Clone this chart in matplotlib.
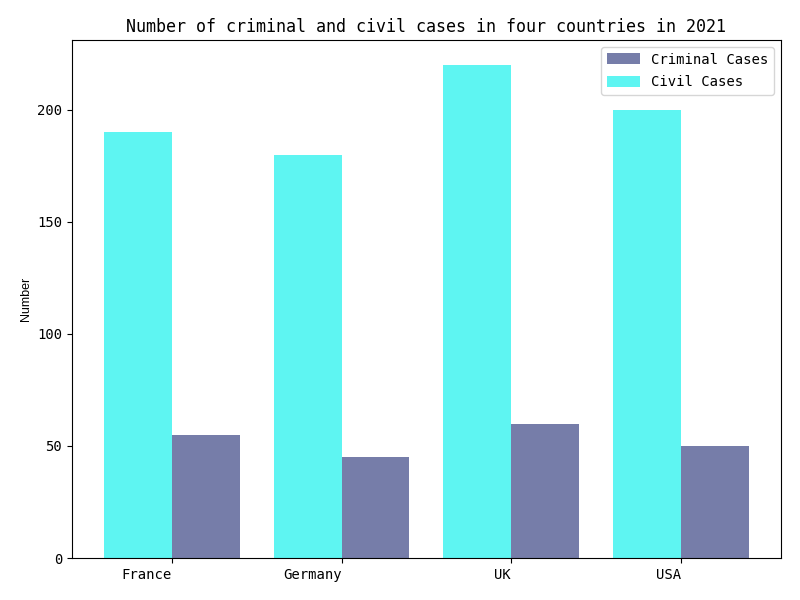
import matplotlib
matplotlib.use('Agg')
import matplotlib.pyplot as plt
import numpy as np

# data
countries = ['France', 'Germany', 'UK', 'USA']
criminal_cases = [55, 45, 60, 50]
civil_cases = [190, 180, 220, 200]

plt.rcParams['font.family'] = ['DejaVu Sans Mono', 'DejaVu Sans']

x = np.arange(len(countries))
width = 0.4

fig, ax = plt.subplots(figsize=(8, 6), dpi=100)
ax.bar(x + width / 2, criminal_cases, width, color='#767da9',
       label='Criminal Cases')
ax.bar(x - width / 2, civil_cases, width, color='#5ef5f2',
       label='Civil Cases')

ax.set_xticks(x)
ax.set_xticklabels(countries, ha='right', fontsize=10)
ax.tick_params(axis='y', labelsize=10)
ax.set_ylabel('Number', family='Liberation Sans', fontsize=9)
ax.set_title('Number of criminal and civil cases in four countries in 2021',
             fontsize=12)
ax.legend(loc='upper right', fontsize=10, handlelength=2.4,
          handleheight=0.85, labelspacing=0.6)

fig.subplots_adjust(left=0.09, right=0.976, bottom=0.07, top=0.933)
fig.savefig('out.png')
